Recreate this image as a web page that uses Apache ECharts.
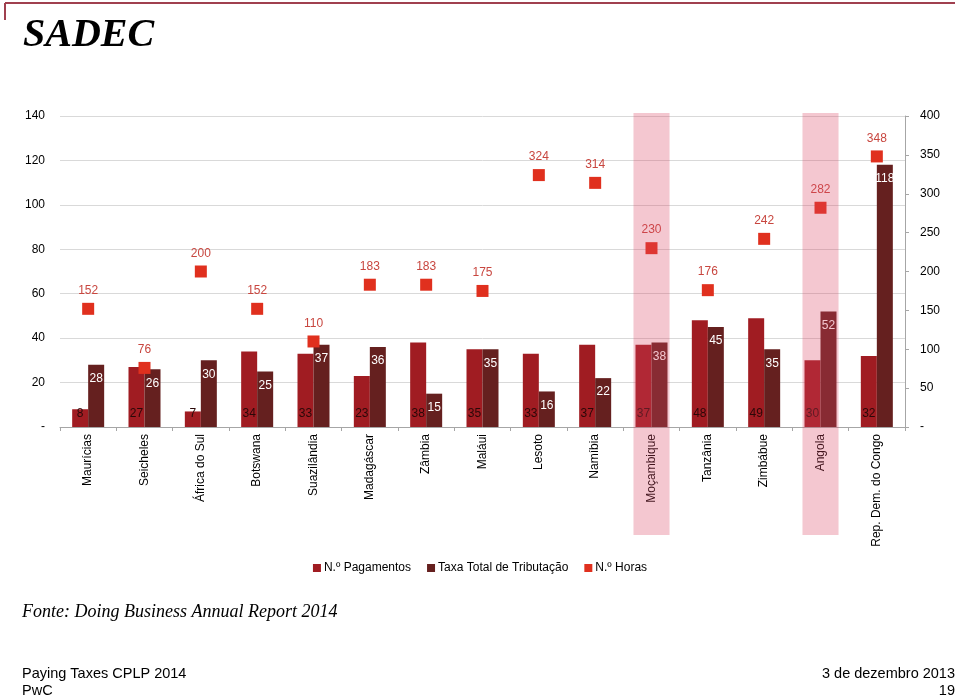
<!DOCTYPE html>
<html>
<head>
<meta charset="utf-8">
<script src="https://cdn.jsdelivr.net/npm/echarts@6/dist/echarts.min.js"></script>
<style>html,body{margin:0;padding:0;background:#fff}#c{width:960px;height:697px}</style>
</head>
<body>
<div id="c"></div>
<script>
var categories = ['Maurícias','Seicheles','África do Sul','Botswana','Suazilândia','Madagáscar','Zâmbia','Maláui','Lesoto','Namíbia','Moçambique','Tanzânia','Zimbábue','Angola','Rep. Dem. do Congo'];
var pagamentos = [8,27,7,34,33,23,38,35,33,37,37,48,49,30,32];
var taxa = [28,26,30,25,37,36,15,35,16,22,38,45,35,52,118];
var horas = [152,76,200,152,110,183,183,175,324,314,230,176,242,282,348];
var destaque = [0,0,0,0,0,0,0,0,0,0,1,0,0,1,0];
var leftTicks = {min:0, max:140, interval:20};
var rightTicks = {min:0, max:400, interval:50};

var chart = echarts.init(document.getElementById('c'));
var dash = function(v){ return v === 0 ? '-' : String(v); };
chart.setOption({
  animation:false,
  textStyle:{fontFamily:'Liberation Sans'},
  title:{text:'SADEC', left:18, top:11, textStyle:{fontFamily:'Liberation Serif', fontStyle:'italic', fontWeight:'bold', fontSize:40, color:'#000'}},
  legend:{data:['N.º Pagamentos','Taxa Total de Tributação','N.º Horas'], left:'center', top:557, icon:'rect', itemWidth:8, itemHeight:8, itemGap:16,
    textStyle:{fontSize:12, color:'#000', fontFamily:'Liberation Sans', padding:[0,0,0,-2]}},
  grid:[{left:60, right:55, top:116, bottom:270},{left:60, right:55, top:113, bottom:162}],
  xAxis:[
    {type:'category', data:categories, gridIndex:0,
     axisLine:{lineStyle:{color:'#a6a6a6'}}, axisTick:{show:true, length:4, lineStyle:{color:'#a6a6a6'}},
     axisLabel:{rotate:90, fontSize:12, color:'#000', margin:7, interval:0}},
    {type:'category', data:categories, gridIndex:1, show:false}
  ],
  yAxis:[
    {type:'value', gridIndex:0, min:leftTicks.min, max:leftTicks.max, interval:leftTicks.interval,
     axisLine:{show:false}, axisTick:{show:false},
     axisLabel:{formatter:dash, fontSize:12, color:'#000', margin:15},
     splitLine:{lineStyle:{color:'#d9d9d9'}}},
    {type:'value', gridIndex:0, position:'right', min:rightTicks.min, max:rightTicks.max, interval:rightTicks.interval,
     axisLine:{show:true, lineStyle:{color:'#a6a6a6'}}, axisTick:{show:true, length:4, lineStyle:{color:'#a6a6a6'}},
     axisLabel:{formatter:dash, fontSize:12, color:'#000', margin:15},
     splitLine:{show:false}},
    {type:'value', gridIndex:1, min:0, max:1, show:false}
  ],
  series:[
    {name:'N.º Pagamentos', type:'bar', data:pagamentos, xAxisIndex:0, yAxisIndex:0, barWidth:16, barGap:'0%',
     itemStyle:{color:'#a01c22'},
     label:{show:true, position:'insideBottom', distance:7, color:'#2a0808', fontSize:12}},
    {name:'Taxa Total de Tributação', type:'bar', data:taxa, xAxisIndex:0, yAxisIndex:0, barWidth:16, barGap:'0%',
     itemStyle:{color:'#65201f'},
     label:{show:true, position:'insideTop', distance:8, color:'#fff', fontSize:12}},
    {name:'N.º Horas', type:'scatter', data:horas, xAxisIndex:0, yAxisIndex:1, symbol:'rect', symbolSize:12,
     itemStyle:{color:'#e0301e', opacity:1},
     label:{show:true, position:'top', distance:6, color:'#c8463f', fontSize:12}},
    {name:'destaque', type:'bar', data:destaque, xAxisIndex:1, yAxisIndex:2, barWidth:'64%', silent:true, z:10,
     itemStyle:{color:'rgba(220,70,100,0.3)'}}
  ],
  graphic:[
    {type:'line', shape:{x1:5,y1:3,x2:955,y2:3}, style:{stroke:'#a0404f', lineWidth:2}},
    {type:'line', shape:{x1:5,y1:3,x2:5,y2:20}, style:{stroke:'#a0404f', lineWidth:2}},
    {type:'text', left:22, top:603, style:{text:'Fonte: Doing Business Annual Report 2014', font:'italic 18px "Liberation Serif"', fill:'#000'}},
    {type:'text', left:22, top:666, style:{text:'Paying Taxes CPLP 2014', font:'14.5px "Liberation Sans"', fill:'#000'}},
    {type:'text', left:22, top:683, style:{text:'PwC', font:'14.5px "Liberation Sans"', fill:'#000'}},
    {type:'text', right:5, top:666, style:{text:'3 de dezembro 2013', font:'14.5px "Liberation Sans"', fill:'#000'}},
    {type:'text', right:5, top:683, style:{text:'19', font:'14.5px "Liberation Sans"', fill:'#000'}}
  ]
});
</script>
</body>
</html>
